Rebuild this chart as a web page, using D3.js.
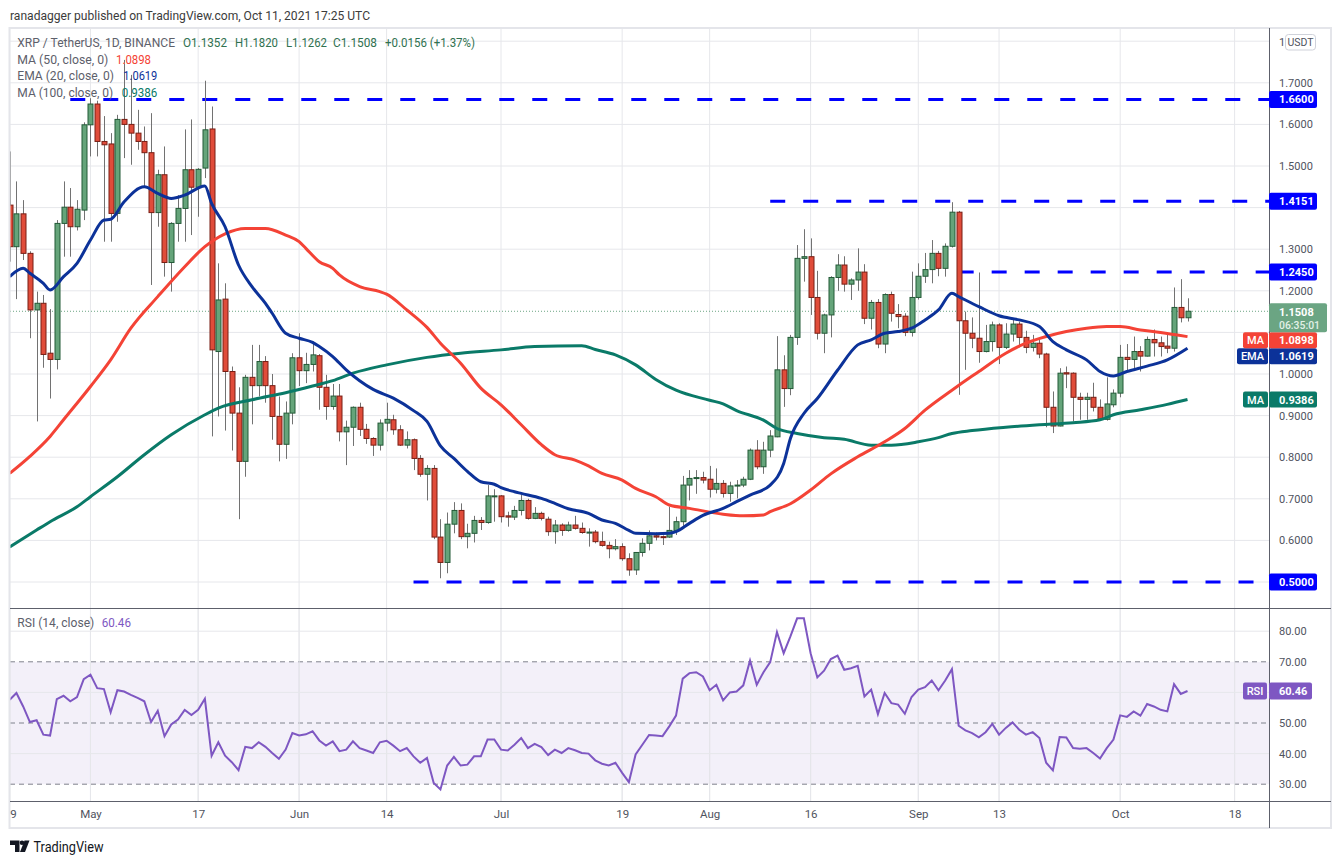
<!DOCTYPE html>
<html><head><meta charset="utf-8">
<script src="https://cdnjs.cloudflare.com/ajax/libs/d3/7.8.5/d3.min.js"></script>
<style>
html,body{margin:0;padding:0;background:#fff;}
svg{display:block;font-family:Roboto,"DejaVu Sans",sans-serif;}
</style></head><body>
<svg id="c" width="1341" height="864"></svg>
<script>
// ---------------- DATA ----------------
const startDay = "2021-04-19";
const open = [1.406,1.306,1.385,1.290,1.154,1.170,1.050,1.035,1.362,1.401,
1.354,1.394,1.599,1.649,1.559,1.553,1.386,1.612,1.600,1.579,
1.559,1.532,1.388,1.479,1.268,1.362,1.398,1.491,1.449,1.495,
1.589,1.054,1.180,1.006,0.906,0.790,0.992,0.972,1.030,0.972,
0.898,0.831,0.906,1.039,1.008,1.023,1.044,0.968,0.922,0.947,
0.861,0.872,0.920,0.867,0.845,0.829,0.882,0.890,0.866,0.829,
0.842,0.797,0.759,0.773,0.608,0.547,0.639,0.672,0.609,0.617,
0.648,0.643,0.705,0.707,0.659,0.656,0.672,0.696,0.653,0.665,
0.651,0.621,0.637,0.624,0.637,0.629,0.619,0.620,0.597,0.588,
0.580,0.585,0.556,0.529,0.571,0.593,0.611,0.609,0.608,0.624,
0.645,0.733,0.749,0.751,0.747,0.723,0.737,0.713,0.731,0.733,
0.747,0.817,0.777,0.817,0.849,1.010,0.965,1.088,1.278,1.282,
1.184,1.098,1.142,1.232,1.262,1.216,1.226,1.245,1.134,1.172,
1.072,1.191,1.143,1.139,1.100,1.184,1.235,1.251,1.290,1.254,
1.307,1.389,1.128,1.098,1.086,1.054,1.078,1.118,1.064,1.096,
1.120,1.088,1.064,1.074,1.048,0.920,0.875,1.003,1.002,0.944,
0.939,0.944,0.920,0.891,0.926,0.954,1.040,1.035,1.054,1.043,
1.083,1.075,1.067,1.062,1.160,1.1352];
const high = [1.535,1.463,1.418,1.295,1.198,1.190,1.156,1.370,1.463,1.447,
1.418,1.605,1.663,1.657,1.620,1.579,1.623,1.755,1.719,1.635,
1.595,1.627,1.491,1.547,1.365,1.430,1.588,1.612,1.495,1.705,
1.643,1.266,1.218,1.018,0.968,0.998,1.070,1.070,1.043,1.000,
0.946,0.934,1.050,1.098,1.051,1.078,1.048,0.998,0.976,0.976,
0.888,0.922,0.931,0.880,0.848,0.891,0.931,0.902,0.877,0.862,
0.845,0.805,0.781,0.781,0.651,0.667,0.692,0.689,0.640,0.659,
0.656,0.733,0.723,0.709,0.669,0.683,0.709,0.700,0.680,0.669,
0.657,0.649,0.641,0.645,0.659,0.643,0.629,0.625,0.621,0.597,
0.603,0.593,0.569,0.571,0.605,0.624,0.619,0.612,0.681,0.657,
0.755,0.769,0.769,0.765,0.779,0.773,0.745,0.741,0.745,0.753,
0.821,0.841,0.837,0.865,1.091,1.045,1.094,1.310,1.348,1.326,
1.248,1.145,1.235,1.288,1.283,1.230,1.302,1.264,1.178,1.180,
1.194,1.198,1.168,1.146,1.246,1.266,1.291,1.322,1.296,1.314,
1.413,1.392,1.150,1.136,1.244,1.118,1.126,1.122,1.122,1.134,
1.126,1.104,1.094,1.083,1.051,0.958,1.014,1.018,1.004,0.955,
0.955,0.979,0.939,0.992,0.963,1.070,1.072,1.090,1.067,1.090,
1.107,1.090,1.094,1.208,1.228,1.1820];
const low = [1.270,1.180,1.274,1.086,0.886,1.015,0.941,1.011,1.282,1.282,
1.345,1.370,1.523,1.523,1.318,1.318,1.366,1.519,1.503,1.539,
1.451,1.214,1.354,1.234,1.198,1.318,1.318,1.334,1.378,1.471,
0.850,0.898,0.864,0.816,0.651,0.753,0.879,0.946,0.931,0.842,
0.790,0.796,0.879,0.971,0.978,1.006,0.914,0.890,0.914,0.838,
0.781,0.827,0.851,0.832,0.803,0.816,0.862,0.854,0.827,0.821,
0.769,0.753,0.696,0.603,0.509,0.521,0.617,0.603,0.581,0.595,
0.625,0.640,0.645,0.643,0.633,0.649,0.660,0.650,0.651,0.648,
0.611,0.592,0.611,0.621,0.626,0.616,0.585,0.593,0.585,0.557,
0.576,0.551,0.515,0.517,0.561,0.576,0.600,0.589,0.606,0.613,
0.635,0.696,0.712,0.737,0.703,0.713,0.703,0.693,0.701,0.728,
0.745,0.771,0.760,0.800,0.848,0.921,0.949,1.070,1.222,1.142,
1.083,1.050,1.088,1.200,1.198,1.178,1.200,1.120,1.107,1.062,
1.050,1.126,1.110,1.091,1.090,1.179,1.219,1.218,1.235,1.234,
1.304,0.950,1.010,1.062,1.027,1.052,1.054,1.024,1.060,1.078,
1.064,1.050,1.054,1.038,0.872,0.858,0.874,0.966,0.886,0.890,
0.890,0.910,0.890,0.888,0.920,0.944,1.006,1.014,1.006,1.042,
1.042,1.042,1.050,1.054,1.124,1.1262];
const close = [1.306,1.385,1.290,1.154,1.170,1.047,1.035,1.362,1.401,1.354,
1.396,1.599,1.649,1.559,1.551,1.386,1.612,1.600,1.579,1.559,
1.532,1.388,1.479,1.268,1.362,1.398,1.491,1.449,1.492,1.587,
1.058,1.178,1.006,0.906,0.790,0.992,0.972,1.030,0.972,0.898,
0.831,0.906,1.039,1.008,1.023,1.046,0.968,0.922,0.947,0.861,
0.872,0.920,0.867,0.845,0.829,0.882,0.891,0.866,0.829,0.842,
0.797,0.759,0.773,0.608,0.547,0.639,0.672,0.609,0.617,0.648,
0.643,0.707,0.707,0.657,0.656,0.672,0.696,0.653,0.665,0.653,
0.621,0.637,0.624,0.637,0.629,0.619,0.620,0.597,0.588,0.580,
0.585,0.556,0.529,0.571,0.593,0.611,0.608,0.608,0.624,0.645,
0.733,0.749,0.751,0.745,0.723,0.737,0.713,0.731,0.733,0.747,
0.817,0.777,0.817,0.851,1.010,0.965,1.088,1.278,1.282,1.184,
1.098,1.142,1.232,1.262,1.216,1.226,1.245,1.134,1.172,1.072,
1.191,1.146,1.138,1.100,1.184,1.235,1.251,1.290,1.254,1.307,
1.389,1.128,1.098,1.086,1.054,1.078,1.118,1.064,1.096,1.120,
1.088,1.064,1.074,1.048,0.920,0.875,1.002,1.000,0.944,0.939,
0.944,0.920,0.891,0.928,0.954,1.040,1.035,1.054,1.043,1.083,
1.075,1.066,1.062,1.160,1.1352,1.1508];
const rsi = [57.6,59.8,55.4,50.3,50.9,46.2,45.9,57.8,58.9,57.1,
58.5,64.3,65.8,61.4,61.1,53.5,60.7,60.3,59.2,58.2,
57.1,50.3,54.0,45.7,49.5,51.1,54.3,52.6,54.3,57.9,
39.3,43.7,39.3,37.2,34.6,42.2,41.8,43.7,42.2,40.2,
38.3,41.3,46.7,45.9,46.3,47.3,44.3,42.6,44.0,40.8,
41.3,44.0,41.8,41.0,40.2,43.7,44.2,42.6,40.8,41.8,
39.1,37.0,38.6,30.4,28.3,36.1,38.9,36.1,36.4,39.1,
39.1,44.6,44.6,41.3,41.0,42.9,45.1,41.8,43.2,42.1,
39.5,41.3,40.2,41.8,41.1,40.2,40.0,37.8,36.7,36.1,
37.0,33.7,30.7,39.7,42.9,46.1,45.9,45.7,48.9,52.4,
64.5,66.3,66.6,65.2,60.7,62.5,57.4,60.0,60.3,62.3,
70.4,62.5,66.6,69.9,79.7,72.8,78.3,84.2,84.2,72.8,
64.9,67.1,70.9,72.0,67.4,67.9,68.7,58.7,60.9,52.9,
59.8,56.5,56.0,53.0,58.5,60.9,61.7,63.9,60.7,63.9,
67.6,49.1,47.6,46.7,45.3,47.0,49.7,46.2,48.4,50.2,
47.8,46.2,47.0,45.1,37.0,34.5,45.4,45.3,41.8,41.6,
41.8,40.2,38.4,41.8,44.6,52.5,52.0,53.8,52.4,56.2,
55.4,54.3,53.8,62.7,59.5,60.46];
// moving averages: [day index from startDay, value]
const ema20 = [[0,1.234],[2,1.254],[3,1.242],[5,1.218],[6,1.202],[8,1.234],[10,1.266],[12,1.322],[14,1.370],[15,1.372],[17,1.414],[20,1.450],[22,1.434],[24,1.422],[26,1.430],[29,1.452],[30,1.410],[32,1.354],[34,1.262],[36,1.210],[38,1.170],[39,1.146],[41,1.098],[43,1.086],[45,1.076],[46,1.066],[48,1.042],[50,1.010],[54,0.963],[57,0.942],[60,0.912],[62,0.886],[64,0.827],[66,0.797],[68,0.766],[70,0.741],[72,0.735],[73,0.727],[75,0.717],[76,0.713],[79,0.701],[81,0.689],[83,0.676],[86,0.665],[88,0.649],[90,0.641],[92,0.624],[93,0.617],[96,0.616],[98,0.617],[99,0.621],[101,0.641],[103,0.660],[106,0.677],[108,0.693],[110,0.709],[113,0.733],[115,0.785],[116,0.845],[118,0.905],[120,0.941],[123,1.009],[126,1.070],[128,1.082],[130,1.098],[132,1.102],[134,1.110],[136,1.130],[138,1.154],[140,1.194],[141,1.186],[144,1.162],[147,1.140],[150,1.130],[153,1.114],[155,1.078],[157,1.058],[160,1.034],[162,1.006],[164,0.995],[166,1.006],[169,1.019],[172,1.034],[175,1.0619]];
const ma50 = [[0,0.761],[3,0.802],[6,0.850],[8,0.890],[12,0.970],[15,1.034],[18,1.110],[22,1.186],[26,1.258],[29,1.306],[32,1.337],[35,1.350],[38,1.350],[41,1.334],[43,1.318],[44,1.302],[46,1.270],[48,1.254],[49,1.238],[52,1.210],[55,1.198],[56,1.192],[59,1.154],[62,1.112],[64,1.074],[67,1.026],[70,0.966],[73,0.926],[76,0.878],[79,0.830],[81,0.806],[84,0.793],[86,0.779],[88,0.761],[91,0.745],[93,0.725],[96,0.705],[98,0.685],[101,0.677],[106,0.663],[109,0.659],[112,0.661],[113,0.669],[116,0.688],[119,0.721],[122,0.760],[126,0.801],[130,0.837],[133,0.869],[136,0.913],[140,0.961],[143,0.995],[144,1.006],[148,1.050],[151,1.074],[154,1.090],[157,1.102],[160,1.110],[163,1.114],[165,1.114],[168,1.106],[171,1.100],[175,1.0898]];
const ma100 = [[0,0.584],[4,0.625],[6,0.645],[10,0.681],[12,0.705],[16,0.753],[20,0.806],[24,0.854],[29,0.902],[31,0.918],[36,0.938],[41,0.955],[45,0.971],[48,0.984],[51,1.002],[56,1.022],[62,1.040],[67,1.050],[73,1.058],[78,1.066],[85,1.068],[87,1.059],[90,1.046],[93,1.022],[96,0.987],[99,0.961],[104,0.937],[106,0.928],[108,0.912],[112,0.889],[114,0.869],[117,0.857],[121,0.847],[124,0.843],[128,0.829],[131,0.829],[135,0.837],[138,0.847],[140,0.857],[143,0.864],[148,0.872],[153,0.878],[158,0.883],[162,0.890],[164,0.902],[168,0.914],[172,0.927],[175,0.9386]];
const levels = [1.66, 1.4151, 1.245, 0.5];
const levelStartDay = [9, 113, 141, 60];
const priceTicks = [0.5,0.6,0.7,0.8,0.9,1.0,1.1,1.2,1.3,1.4,1.5,1.6,1.7,1.8];
const rsiTicks = [30,40,50,60,70,80];
const timeTickDates = ["2021-04-19","2021-05-01","2021-05-17","2021-06-01","2021-06-14","2021-07-01","2021-07-19","2021-08-01","2021-08-16","2021-09-01","2021-09-13","2021-10-01","2021-10-18"];
const timeTickLabels = ["19","May","17","Jun","14","Jul","19","Aug","16","Sep","13","Oct","18"];

// ---------------- SETUP ----------------
const svg = d3.select("#c");
const DAY = 864e5;
const t0 = Date.parse(startDay + "T00:00:00Z");
const dayDate = i => new Date(t0 + i * DAY);
const n = close.length;
const PL = 10, PR = 1269, PT = 28, PB = 608, RB = 801, FR = 1331, FB = 828;
const x = d3.scaleUtc().domain([dayDate(0), dayDate(175)]).range([9.7, 1187.5]);
const yP = d3.scaleLinear().domain([0.5, 1.7]).range([582, 82.8]);
const yR = d3.scaleLinear().domain([30, 80]).range([784.2, 631.2]);
const f4 = d3.format(".4f"), f2 = d3.format(".2f");
const gridC = "#e6e7eb", axisC = "#5d606b", textC = "#50535e";
const greenF = "#65a47a", greenS = "#235a37", redF = "#e04c3a", redS = "#781e14", wickC = "#727272";

svg.append("rect").attr("width",1341).attr("height",864).attr("fill","#fff");
const defs = svg.append("defs");
defs.append("clipPath").attr("id","mainClip").append("rect").attr("x",PL).attr("y",PT).attr("width",PR-PL).attr("height",PB-PT);
defs.append("clipPath").attr("id","rsiClip").append("rect").attr("x",PL).attr("y",PB).attr("width",PR-PL).attr("height",RB-PB);
defs.append("clipPath").attr("id","timeClip").append("rect").attr("x",PL).attr("y",RB).attr("width",PR-PL).attr("height",FB-RB);

// published line
svg.append("text").attr("x",10).attr("y",19.5).attr("font-size",12.5).attr("fill","#3b3b3b")
  .attr("textLength",360).attr("lengthAdjust","spacingAndGlyphs")
  .text("ranadagger published on TradingView.com, Oct 11, 2021 17:25 UTC");

// gridlines
const tickD = timeTickDates.map(s => new Date(Date.parse(s + "T00:00:00Z")));
const grid = svg.append("g");
grid.selectAll(".vg").data(tickD).join("line")
  .attr("x1", d => x(d)).attr("x2", d => x(d)).attr("y1", PT).attr("y2", RB)
  .attr("stroke", gridC).attr("stroke-width", 1);
grid.selectAll(".hg").data(priceTicks).join("line")
  .attr("x1", PL).attr("x2", PR).attr("y1", d => yP(d)).attr("y2", d => yP(d))
  .attr("stroke", gridC).attr("stroke-width", 1);

// RSI pane background band and grid
const rg = svg.append("g").attr("clip-path","url(#rsiClip)");
rg.append("rect").attr("x",PL).attr("width",PR-PL).attr("y",yR(70)).attr("height",yR(30)-yR(70))
  .attr("fill","rgba(126,87,194,0.09)");
rg.selectAll(".rgl").data([80,60,40]).join("line")
  .attr("x1",PL).attr("x2",PR).attr("y1",d=>yR(d)).attr("y2",d=>yR(d)).attr("stroke",gridC);
rg.selectAll(".rdl").data([70,50,30]).join("line")
  .attr("x1",PL).attr("x2",PR).attr("y1",d=>yR(d)).attr("y2",d=>yR(d))
  .attr("stroke","#7f828c").attr("stroke-dasharray","5,4").attr("stroke-width",1);
rg.selectAll(".rvg").data(tickD).join("line")
  .attr("x1", d => x(d)).attr("x2", d => x(d)).attr("y1", PB).attr("y2", RB)
  .attr("stroke", gridC);

// main pane
const mg = svg.append("g").attr("clip-path","url(#mainClip)");
mg.selectAll(".lvl").data(levels).join("line")
  .attr("x1",(d,i)=>x(dayDate(levelStartDay[i]))).attr("x2",PR)
  .attr("y1",d=>yP(d)).attr("y2",d=>yP(d))
  .attr("stroke","#0000ff").attr("stroke-width",3).attr("stroke-dasharray","15,18");
mg.append("line").attr("x1",PL).attr("x2",PR).attr("y1",yP(close[n-1])).attr("y2",yP(close[n-1]))
  .attr("stroke","#6ba583").attr("stroke-dasharray","1,2").attr("stroke-width",1);

// candles
const idx = d3.range(n);
const bw = 5;
const cg = mg.append("g");
cg.selectAll(".wick").data(idx).join("line")
  .attr("x1", i => Math.round(x(dayDate(i))) + 0.5).attr("x2", i => Math.round(x(dayDate(i))) + 0.5)
  .attr("y1", i => yP(high[i])).attr("y2", i => yP(low[i]))
  .attr("stroke", wickC).attr("stroke-width", 1);
cg.selectAll(".body").data(idx).join("rect")
  .attr("x", i => Math.round(x(dayDate(i))) + 0.5 - bw/2)
  .attr("width", bw)
  .attr("y", i => yP(Math.max(open[i], close[i])))
  .attr("height", i => Math.max(1, Math.abs(yP(open[i]) - yP(close[i]))))
  .attr("fill", i => close[i] >= open[i] ? greenF : redF)
  .attr("stroke", i => close[i] >= open[i] ? greenS : redS)
  .attr("stroke-width", 1);

// MA lines
const maLine = d3.line().x(d => x(dayDate(d[0]))).y(d => yP(d[1])).curve(d3.curveMonotoneX);
mg.append("path").attr("d", maLine(ma100)).attr("fill","none").attr("stroke","#0a7a68").attr("stroke-width",3);
mg.append("path").attr("d", maLine(ma50)).attr("fill","none").attr("stroke","#f44336").attr("stroke-width",3);
mg.append("path").attr("d", maLine(ema20)).attr("fill","none").attr("stroke","#0c3299").attr("stroke-width",3);

// RSI line
const rsiLine = d3.line().x((d,i) => x(dayDate(i))).y(d => yR(d));
rg.append("path").attr("d", rsiLine(rsi)).attr("fill","none").attr("stroke","#7e57c2").attr("stroke-width",2);

// frame and separators
svg.append("rect").attr("x",9.5).attr("y",28).attr("width",FR-9.5).attr("height",FB-28)
  .attr("fill","none").attr("stroke","#e4e5ea").attr("stroke-width",2);
svg.append("line").attr("x1",PR+0.5).attr("x2",PR+0.5).attr("y1",PT).attr("y2",FB).attr("stroke",axisC);
svg.append("line").attr("x1",PL).attr("x2",FR).attr("y1",PB+0.5).attr("y2",PB+0.5).attr("stroke",axisC);
svg.append("line").attr("x1",PL).attr("x2",FR).attr("y1",RB+0.5).attr("y2",RB+0.5).attr("stroke",axisC);

// ---- value labels on the price axis (computed first so covered tick labels can be skipped)
const last = a => a[a.length-1][1];
const levelBoxes = levels.map(v => ({top: yP(v) - 8.5, h: 17}));
const vlabels = [
  {v: close[n-1], off: 8, h: 29, w: 58, fill: "#6ba583", lines: [f4(close[n-1]), "06:35:01"]},
  {v: last(ma50), off: 8, h: 16, w: 48, fill: "#f44336", tag: "MA", tagW: 25},
  {v: last(ema20), off: 8, h: 16, w: 48, fill: "#0c3299", tag: "EMA", tagW: 31},
  {v: last(ma100), off: 8, h: 16, w: 48, fill: "#0a7a68", tag: "MA", tagW: 25}
];
vlabels.sort((a,b) => yP(a.v) - yP(b.v));
let prevBottom = -1e9;
vlabels.forEach(L => { L.top = Math.max(yP(L.v) - L.off, prevBottom); prevBottom = L.top + L.h; });
const allBoxes = levelBoxes.concat(vlabels.map(L => ({top: L.top, h: L.h})));
const covered = v => allBoxes.some(b => yP(v) + 5 > b.top && yP(v) - 5 < b.top + b.h);

// axes
const pax = svg.append("g").attr("transform",`translate(${PR+7},0)`)
  .call(d3.axisRight(yP).tickValues(priceTicks.filter(v => v < 1.75 && !covered(v))).tickFormat(f4).tickSize(0).tickPadding(3));
pax.select(".domain").remove();
pax.attr("font-size",11).attr("font-family","Roboto, sans-serif").style("color",textC);

const rax = svg.append("g").attr("transform",`translate(${PR+7},0)`)
  .call(d3.axisRight(yR).tickValues(rsiTicks).tickFormat(f2).tickSize(0).tickPadding(3));
rax.select(".domain").remove();
rax.attr("font-size",11).attr("font-family","Roboto, sans-serif").style("color",textC);

const tax = svg.append("g").attr("clip-path","url(#timeClip)").append("g").attr("transform",`translate(0,${RB})`)
  .call(d3.axisBottom(x).tickValues(tickD).tickFormat((d,i) => timeTickLabels[i]).tickSize(0).tickPadding(9));
tax.select(".domain").remove();
tax.attr("font-size",11.5).attr("font-family","Roboto, sans-serif").style("color",textC);

// "1 USDT"
svg.append("text").attr("x",1279).attr("y",46).attr("font-size",11).attr("fill",textC).text("1");
svg.append("rect").attr("x",1285.5).attr("y",34.5).attr("width",30).attr("height",15.5).attr("rx",3)
  .attr("fill","#fff").attr("stroke","#cfd2da");
svg.append("text").attr("x",1300.5).attr("y",46).attr("text-anchor","middle").attr("font-size",10.5).attr("fill",textC).text("USDT");

// level boxes on axis
const boxG = svg.append("g");
levels.forEach(v => {
  const cy = yP(v);
  boxG.append("rect").attr("x",PR).attr("y",cy-8.5).attr("width",48).attr("height",17).attr("rx",2).attr("fill","#0000ff");
  boxG.append("text").attr("x",1279).attr("y",cy+4).attr("font-size",11).attr("font-weight",700).attr("fill","#fff").text(f4(v));
});

// stacked value labels
vlabels.slice().reverse().forEach(L => {
  const g = boxG.append("g");
  g.append("rect").attr("x",PR).attr("y",L.top).attr("width",L.w).attr("height",L.h).attr("rx",2).attr("fill",L.fill);
  if (L.lines) {
    g.append("text").attr("x",1279).attr("y",L.top+12.5).attr("font-size",11).attr("font-weight",700).attr("fill","#fff").text(L.lines[0]);
    g.append("text").attr("x",1279).attr("y",L.top+25.5).attr("font-size",11).attr("font-weight",500).attr("fill","#e2f1e7")
      .attr("textLength",41).attr("lengthAdjust","spacingAndGlyphs").text(L.lines[1]);
  } else {
    g.append("text").attr("x",1279).attr("y",L.top+12).attr("font-size",11).attr("font-weight",700).attr("fill","#fff").text(f4(L.v));
    g.append("rect").attr("x",PR-1-L.tagW).attr("y",L.top).attr("width",L.tagW).attr("height",L.h).attr("rx",2).attr("fill",L.fill);
    g.append("text").attr("x",PR-1-L.tagW/2).attr("y",L.top+12).attr("text-anchor","middle").attr("font-size",11).attr("font-weight",500).attr("fill","#fff").text(L.tag);
  }
});
// RSI value label
{
  const cy = yR(rsi[n-1]);
  boxG.append("rect").attr("x",PR).attr("y",cy-8.5).attr("width",43).attr("height",17).attr("rx",2).attr("fill","#7e57c2");
  boxG.append("text").attr("x",1279).attr("y",cy+4).attr("font-size",11).attr("font-weight",700).attr("fill","#fff").text(f2(rsi[n-1]));
  boxG.append("rect").attr("x",PR-26).attr("y",cy-8.5).attr("width",24).attr("height",17).attr("rx",2).attr("fill","#7e57c2");
  boxG.append("text").attr("x",PR-14).attr("y",cy+4).attr("text-anchor","middle").attr("font-size",11).attr("font-weight",500).attr("fill","#fff").text("RSI");
}

// legends
const leg = svg.append("g").attr("font-size",12.5);
function lt(str, x0, yc, w, col) {
  leg.append("text").attr("x",x0).attr("y",yc+4.4).attr("fill",col)
    .attr("textLength",w).attr("lengthAdjust","spacingAndGlyphs").text(str);
}
const greyT = "#5d606b", ohlcC = "#2f7150";
const chg = close[n-1] - close[n-2];
lt("XRP / TetherUS, 1D, BINANCE", 17.3, 42.3, 157.7, greyT);
lt("O" + f4(open[n-1]), 183, 42.3, 44, ohlcC);
lt("H" + f4(high[n-1]), 235, 42.3, 43, ohlcC);
lt("L" + f4(low[n-1]), 286, 42.3, 41, ohlcC);
lt("C" + f4(close[n-1]), 333, 42.3, 44, ohlcC);
lt((chg>=0?"+":"") + f4(chg) + " (" + (chg>=0?"+":"") + d3.format(".2f")(chg/close[n-2]*100) + "%)", 385, 42.3, 90, ohlcC);
lt("MA (50, close, 0)", 17.3, 59.3, 91, greyT);
lt(f4(last(ma50)), 116, 59.3, 35, "#f44336");
lt("EMA (20, close, 0)", 17.3, 75.7, 96.7, greyT);
lt(f4(last(ema20)), 123.3, 75.7, 34, "#0c3299");
lt("MA (100, close, 0)", 17.3, 92.7, 96, greyT);
lt(f4(last(ma100)), 121.7, 92.7, 35.6, "#0a7a68");
lt("RSI (14, close)", 17.3, 623, 77, greyT);
lt(f2(rsi[n-1]), 101.7, 623, 29.3, "#7e57c2");

// TradingView logo
const lg = svg.append("g").attr("fill","#131722");
lg.append("path").attr("d","M10 840.5 H19.5 V852 H15 V845 H10 Z");
lg.append("circle").attr("cx",22).attr("cy",842.8).attr("r",2.3);
lg.append("path").attr("d","M24.5 840.5 H29.5 L25 852 H20 Z");
svg.append("text").attr("x",33.5).attr("y",852).attr("font-size",14.5).attr("fill","#131722")
  .attr("textLength",70).attr("lengthAdjust","spacingAndGlyphs").text("TradingView");
</script>
</body></html>
